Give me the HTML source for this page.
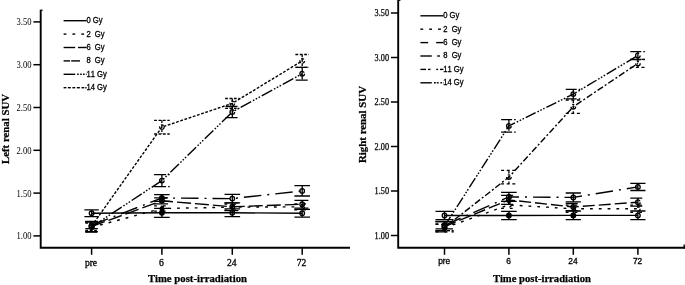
<!DOCTYPE html>
<html><head><meta charset="utf-8"><title>Renal SUV</title>
<style>
html,body{margin:0;padding:0;background:#fff;}
body{width:685px;height:285px;overflow:hidden;}
svg{display:block;}
svg text{fill:#000;}
</style></head><body>
<svg width="685" height="285" viewBox="0 0 685 285">
<rect width="685" height="285" fill="#fff"/>
<path d="M40.7,9.8 V247.8 H350" fill="none" stroke="#000" stroke-width="1.9"/>
<line x1="33.400000000000006" y1="235.90" x2="40.7" y2="235.90" stroke="#000" stroke-width="1.5"/>
<text x="31.500000000000004" y="239.30" text-anchor="end" textLength="15" lengthAdjust="spacingAndGlyphs" style="font:10px 'Liberation Serif',serif">1.00</text>
<line x1="33.400000000000006" y1="193.10" x2="40.7" y2="193.10" stroke="#000" stroke-width="1.5"/>
<text x="31.500000000000004" y="196.50" text-anchor="end" textLength="15" lengthAdjust="spacingAndGlyphs" style="font:10px 'Liberation Serif',serif">1.50</text>
<line x1="33.400000000000006" y1="150.30" x2="40.7" y2="150.30" stroke="#000" stroke-width="1.5"/>
<text x="31.500000000000004" y="153.70" text-anchor="end" textLength="15" lengthAdjust="spacingAndGlyphs" style="font:10px 'Liberation Serif',serif">2.00</text>
<line x1="33.400000000000006" y1="107.50" x2="40.7" y2="107.50" stroke="#000" stroke-width="1.5"/>
<text x="31.500000000000004" y="110.90" text-anchor="end" textLength="15" lengthAdjust="spacingAndGlyphs" style="font:10px 'Liberation Serif',serif">2.50</text>
<line x1="33.400000000000006" y1="64.70" x2="40.7" y2="64.70" stroke="#000" stroke-width="1.5"/>
<text x="31.500000000000004" y="68.10" text-anchor="end" textLength="15" lengthAdjust="spacingAndGlyphs" style="font:10px 'Liberation Serif',serif">3.00</text>
<line x1="33.400000000000006" y1="21.90" x2="40.7" y2="21.90" stroke="#000" stroke-width="1.5"/>
<text x="31.500000000000004" y="25.30" text-anchor="end" textLength="15" lengthAdjust="spacingAndGlyphs" style="font:10px 'Liberation Serif',serif">3.50</text>
<line x1="91.6" y1="247.8" x2="91.6" y2="254.8" stroke="#000" stroke-width="1.5"/>
<text x="91.0" y="265.6" text-anchor="middle" style="font:9.6px 'Liberation Serif',serif;stroke:#000;stroke-width:0.3px">pre</text>
<line x1="161.9" y1="247.8" x2="161.9" y2="254.8" stroke="#000" stroke-width="1.5"/>
<text x="161.3" y="265.6" text-anchor="middle" style="font:9.6px 'Liberation Serif',serif;stroke:#000;stroke-width:0.3px">6</text>
<line x1="232.3" y1="247.8" x2="232.3" y2="254.8" stroke="#000" stroke-width="1.5"/>
<text x="231.7" y="265.6" text-anchor="middle" style="font:9.6px 'Liberation Serif',serif;stroke:#000;stroke-width:0.3px">24</text>
<line x1="302.2" y1="247.8" x2="302.2" y2="254.8" stroke="#000" stroke-width="1.5"/>
<text x="301.6" y="265.6" text-anchor="middle" style="font:9.6px 'Liberation Serif',serif;stroke:#000;stroke-width:0.3px">72</text>
<text x="148" y="282" textLength="99" lengthAdjust="spacingAndGlyphs" style="font:bold 11px 'Liberation Serif',serif;stroke:#000;stroke-width:0.25px">Time post-irradiation</text>
<text transform="translate(9.3,164) rotate(-90)" textLength="70" lengthAdjust="spacingAndGlyphs" style="font:bold 11px 'Liberation Serif',serif;stroke:#000;stroke-width:0.25px">Left renal SUV</text>
<line x1="63.6" y1="20.70" x2="86.6" y2="20.70" stroke="#000" stroke-width="1.4"/>
<text transform="translate(86.4,23.10) scale(0.93,1)" xml:space="preserve" style="font:8.2px 'Liberation Sans',sans-serif;white-space:pre;font-kerning:none;stroke:#000;stroke-width:0.3px">0 Gy</text>
<line x1="63.6" y1="34.10" x2="66.4" y2="34.10" stroke="#000" stroke-width="1.4"/>
<line x1="72.4" y1="34.10" x2="75.2" y2="34.10" stroke="#000" stroke-width="1.4"/>
<line x1="81.3" y1="34.10" x2="84.1" y2="34.10" stroke="#000" stroke-width="1.4"/>
<text transform="translate(86.4,36.50) scale(0.93,1)" xml:space="preserve" style="font:8.2px 'Liberation Sans',sans-serif;white-space:pre;font-kerning:none;stroke:#000;stroke-width:0.3px">2  Gy</text>
<line x1="63.6" y1="47.50" x2="75.2" y2="47.50" stroke="#000" stroke-width="1.4"/>
<line x1="78.0" y1="47.50" x2="86.6" y2="47.50" stroke="#000" stroke-width="1.4"/>
<text transform="translate(86.4,49.90) scale(0.93,1)" xml:space="preserve" style="font:8.2px 'Liberation Sans',sans-serif;white-space:pre;font-kerning:none;stroke:#000;stroke-width:0.3px">6  Gy</text>
<line x1="63.6" y1="60.90" x2="70.1" y2="60.90" stroke="#000" stroke-width="1.4"/>
<line x1="71.2" y1="60.90" x2="80.0" y2="60.90" stroke="#000" stroke-width="1.4"/>
<text transform="translate(86.4,63.30) scale(0.93,1)" xml:space="preserve" style="font:8.2px 'Liberation Sans',sans-serif;white-space:pre;font-kerning:none;stroke:#000;stroke-width:0.3px">8  Gy</text>
<line x1="63.6" y1="74.30" x2="75.2" y2="74.30" stroke="#000" stroke-width="1.4"/>
<line x1="77.1" y1="74.30" x2="78.7" y2="74.30" stroke="#000" stroke-width="1.4"/>
<line x1="80.2" y1="74.30" x2="81.8" y2="74.30" stroke="#000" stroke-width="1.4"/>
<line x1="83.0" y1="74.30" x2="84.6" y2="74.30" stroke="#000" stroke-width="1.4"/>
<line x1="85.9" y1="74.30" x2="86.6" y2="74.30" stroke="#000" stroke-width="1.4"/>
<text transform="translate(86.4,76.70) scale(0.93,1)" xml:space="preserve" style="font:8.2px 'Liberation Sans',sans-serif;white-space:pre;font-kerning:none;stroke:#000;stroke-width:0.3px">11 Gy</text>
<line x1="63.6" y1="87.70" x2="66.4" y2="87.70" stroke="#000" stroke-width="1.4"/>
<line x1="67.9" y1="87.70" x2="70.8" y2="87.70" stroke="#000" stroke-width="1.4"/>
<line x1="72.4" y1="87.70" x2="75.2" y2="87.70" stroke="#000" stroke-width="1.4"/>
<line x1="76.8" y1="87.70" x2="79.9" y2="87.70" stroke="#000" stroke-width="1.4"/>
<line x1="81.5" y1="87.70" x2="84.3" y2="87.70" stroke="#000" stroke-width="1.4"/>
<line x1="85.3" y1="87.70" x2="86.6" y2="87.70" stroke="#000" stroke-width="1.4"/>
<text transform="translate(86.4,90.10) scale(0.93,1)" xml:space="preserve" style="font:8.2px 'Liberation Sans',sans-serif;white-space:pre;font-kerning:none;stroke:#000;stroke-width:0.3px">14 Gy</text>
<polyline points="91.6,213.2 161.9,212.8 232.3,212.8 302.2,213.2" fill="none" stroke="#000" stroke-width="1.4"/>
<path d="M91.6,209.8 V216.6 M84.4,209.8 H98.8 M84.4,216.6 H98.8" fill="none" stroke="#000" stroke-width="1.3"/>
<circle cx="91.6" cy="213.2" r="2.3" fill="none" stroke="#000" stroke-width="1.3"/>
<path d="M161.9,208.3 V217.3 M154.1,208.3 H169.7 M154.1,217.3 H169.7" fill="none" stroke="#000" stroke-width="1.3"/>
<circle cx="161.9" cy="212.8" r="2.3" fill="#000" stroke="#000" stroke-width="1.3"/>
<path d="M232.3,208.9 V216.6 M224.5,208.9 H240.1 M224.5,216.6 H240.1" fill="none" stroke="#000" stroke-width="1.3"/>
<circle cx="232.3" cy="212.8" r="2.3" fill="none" stroke="#000" stroke-width="1.3"/>
<path d="M302.2,209.4 V217.1 M294.4,209.4 H310.0 M294.4,217.1 H310.0" fill="none" stroke="#000" stroke-width="1.3"/>
<circle cx="302.2" cy="213.2" r="2.3" fill="none" stroke="#000" stroke-width="1.3"/>
<polyline points="91.6,227.3 161.9,208.5 232.3,207.2 302.2,206.8" fill="none" stroke="#000" stroke-width="1.4" stroke-dasharray="2.8 6"/>
<path d="M91.6,223.1 V231.6 M85.3,223.1 H97.9 M85.3,231.6 H97.9" fill="none" stroke="#000" stroke-width="1.3" stroke-dasharray="2.8 6"/>
<circle cx="91.6" cy="227.3" r="2.3" fill="none" stroke="#000" stroke-width="1.3" stroke-dasharray="2.8 6"/>
<path d="M161.9,205.9 V211.1 M154.1,205.9 H169.7 M154.1,211.1 H169.7" fill="none" stroke="#000" stroke-width="1.3" stroke-dasharray="2.8 6"/>
<circle cx="161.9" cy="208.5" r="2.3" fill="#000" stroke="#000" stroke-width="1.3" stroke-dasharray="2.8 6"/>
<path d="M232.3,204.2 V210.2 M224.5,204.2 H240.1 M224.5,210.2 H240.1" fill="none" stroke="#000" stroke-width="1.3" stroke-dasharray="2.8 6"/>
<circle cx="232.3" cy="207.2" r="2.3" fill="none" stroke="#000" stroke-width="1.3" stroke-dasharray="2.8 6"/>
<path d="M302.2,203.8 V209.8 M294.4,203.8 H310.0 M294.4,209.8 H310.0" fill="none" stroke="#000" stroke-width="1.3" stroke-dasharray="2.8 6"/>
<circle cx="302.2" cy="206.8" r="2.3" fill="none" stroke="#000" stroke-width="1.3" stroke-dasharray="2.8 6"/>
<polyline points="91.6,226.5 161.9,200.8 232.3,206.8 302.2,204.2" fill="none" stroke="#000" stroke-width="1.4" stroke-dasharray="14 4"/>
<path d="M91.6,221.3 V231.6 M85.3,221.3 H97.9 M85.3,231.6 H97.9" fill="none" stroke="#000" stroke-width="1.3" stroke-dasharray="14 4"/>
<circle cx="91.6" cy="226.5" r="2.3" fill="none" stroke="#000" stroke-width="1.3" stroke-dasharray="14 4"/>
<path d="M161.9,197.8 V203.8 M154.1,197.8 H169.7 M154.1,203.8 H169.7" fill="none" stroke="#000" stroke-width="1.3" stroke-dasharray="14 4"/>
<circle cx="161.9" cy="200.8" r="2.3" fill="none" stroke="#000" stroke-width="1.3" stroke-dasharray="14 4"/>
<path d="M232.3,202.9 V210.6 M224.5,202.9 H240.1 M224.5,210.6 H240.1" fill="none" stroke="#000" stroke-width="1.3" stroke-dasharray="14 4"/>
<circle cx="232.3" cy="206.8" r="2.3" fill="none" stroke="#000" stroke-width="1.3" stroke-dasharray="14 4"/>
<path d="M302.2,200.4 V208.1 M294.4,200.4 H310.0 M294.4,208.1 H310.0" fill="none" stroke="#000" stroke-width="1.3" stroke-dasharray="14 4"/>
<circle cx="302.2" cy="204.2" r="2.3" fill="none" stroke="#000" stroke-width="1.3" stroke-dasharray="14 4"/>
<polyline points="91.6,225.2 161.9,198.0 232.3,198.6 302.2,190.9" fill="none" stroke="#000" stroke-width="1.4" stroke-dasharray="17.5 6 2 6"/>
<path d="M91.6,221.8 V228.6 M85.3,221.8 H97.9 M85.3,228.6 H97.9" fill="none" stroke="#000" stroke-width="1.3" stroke-dasharray="17.5 6 2 6"/>
<circle cx="91.6" cy="225.2" r="2.3" fill="none" stroke="#000" stroke-width="1.3" stroke-dasharray="17.5 6 2 6"/>
<path d="M161.9,194.6 V201.4 M154.1,194.6 H169.7 M154.1,201.4 H169.7" fill="none" stroke="#000" stroke-width="1.3" stroke-dasharray="17.5 6 2 6"/>
<circle cx="161.9" cy="198.0" r="2.3" fill="#000" stroke="#000" stroke-width="1.3" stroke-dasharray="17.5 6 2 6"/>
<path d="M232.3,194.3 V202.9 M224.5,194.3 H240.1 M224.5,202.9 H240.1" fill="none" stroke="#000" stroke-width="1.3" stroke-dasharray="17.5 6 2 6"/>
<circle cx="232.3" cy="198.6" r="2.3" fill="none" stroke="#000" stroke-width="1.3" stroke-dasharray="17.5 6 2 6"/>
<path d="M302.2,185.7 V196.0 M294.4,185.7 H310.0 M294.4,196.0 H310.0" fill="none" stroke="#000" stroke-width="1.3" stroke-dasharray="17.5 6 2 6"/>
<circle cx="302.2" cy="190.9" r="2.3" fill="none" stroke="#000" stroke-width="1.3" stroke-dasharray="17.5 6 2 6"/>
<polyline points="91.6,226.9 161.9,180.6 232.3,112.0 302.2,73.7" fill="none" stroke="#000" stroke-width="1.4" stroke-dasharray="12 2 1.6 1.6 1.6 1.6 1.6 2"/>
<path d="M91.6,221.8 V232.0 M85.3,221.8 H97.9 M85.3,232.0 H97.9" fill="none" stroke="#000" stroke-width="1.3" stroke-dasharray="12 2 1.6 1.6 1.6 1.6 1.6 2"/>
<circle cx="91.6" cy="226.9" r="2.3" fill="none" stroke="#000" stroke-width="1.3" stroke-dasharray="12 2 1.6 1.6 1.6 1.6 1.6 2"/>
<path d="M161.9,174.6 V186.6 M154.1,174.6 H169.7 M154.1,186.6 H169.7" fill="none" stroke="#000" stroke-width="1.3" stroke-dasharray="12 2 1.6 1.6 1.6 1.6 1.6 2"/>
<circle cx="161.9" cy="180.6" r="2.3" fill="none" stroke="#000" stroke-width="1.3" stroke-dasharray="12 2 1.6 1.6 1.6 1.6 1.6 2"/>
<path d="M232.3,106.5 V117.6 M225.5,106.5 H239.1 M225.5,117.6 H239.1" fill="none" stroke="#000" stroke-width="1.3" stroke-dasharray="12 2 1.6 1.6 1.6 1.6 1.6 2"/>
<circle cx="232.3" cy="112.0" r="2.3" fill="none" stroke="#000" stroke-width="1.3" stroke-dasharray="12 2 1.6 1.6 1.6 1.6 1.6 2"/>
<path d="M302.2,67.3 V80.1 M295.7,67.3 H308.7 M295.7,80.1 H308.7" fill="none" stroke="#000" stroke-width="1.3" stroke-dasharray="12 2 1.6 1.6 1.6 1.6 1.6 2"/>
<circle cx="302.2" cy="73.7" r="2.3" fill="none" stroke="#000" stroke-width="1.3" stroke-dasharray="12 2 1.6 1.6 1.6 1.6 1.6 2"/>
<polyline points="91.6,226.1 161.9,127.1 232.3,103.4 302.2,60.9" fill="none" stroke="#000" stroke-width="1.4" stroke-dasharray="2.8 1.6"/>
<path d="M91.6,221.8 V230.3 M85.3,221.8 H97.9 M85.3,230.3 H97.9" fill="none" stroke="#000" stroke-width="1.3" stroke-dasharray="2.8 1.6"/>
<circle cx="91.6" cy="226.1" r="2.3" fill="none" stroke="#000" stroke-width="1.3" stroke-dasharray="2.8 1.6"/>
<path d="M161.9,120.3 V134.0 M154.1,120.3 H169.7 M154.1,134.0 H169.7" fill="none" stroke="#000" stroke-width="1.3" stroke-dasharray="2.8 1.6"/>
<circle cx="161.9" cy="127.1" r="2.3" fill="none" stroke="#000" stroke-width="1.3" stroke-dasharray="2.8 1.6"/>
<path d="M232.3,98.5 V108.3 M225.1,98.5 H239.5 M225.1,108.3 H239.5" fill="none" stroke="#000" stroke-width="1.3" stroke-dasharray="2.8 1.6"/>
<circle cx="232.3" cy="103.4" r="2.3" fill="none" stroke="#000" stroke-width="1.3" stroke-dasharray="2.8 1.6"/>
<path d="M302.2,54.5 V67.4 M295.4,54.5 H309.0 M295.4,67.4 H309.0" fill="none" stroke="#000" stroke-width="1.3" stroke-dasharray="2.8 1.6"/>
<circle cx="302.2" cy="60.9" r="2.3" fill="none" stroke="#000" stroke-width="1.3" stroke-dasharray="2.8 1.6"/>
<path d="M398.2,0 V247.8 H685" fill="none" stroke="#000" stroke-width="1.9"/>
<line x1="390.9" y1="235.50" x2="398.2" y2="235.50" stroke="#000" stroke-width="1.5"/>
<text x="389.0" y="238.90" text-anchor="end" textLength="14.4" lengthAdjust="spacingAndGlyphs" style="font:10px 'Liberation Serif',serif;stroke:#000;stroke-width:0.25px">1.00</text>
<line x1="390.9" y1="191.00" x2="398.2" y2="191.00" stroke="#000" stroke-width="1.5"/>
<text x="389.0" y="194.40" text-anchor="end" textLength="14.4" lengthAdjust="spacingAndGlyphs" style="font:10px 'Liberation Serif',serif;stroke:#000;stroke-width:0.25px">1.50</text>
<line x1="390.9" y1="146.50" x2="398.2" y2="146.50" stroke="#000" stroke-width="1.5"/>
<text x="389.0" y="149.90" text-anchor="end" textLength="14.4" lengthAdjust="spacingAndGlyphs" style="font:10px 'Liberation Serif',serif;stroke:#000;stroke-width:0.25px">2.00</text>
<line x1="390.9" y1="102.00" x2="398.2" y2="102.00" stroke="#000" stroke-width="1.5"/>
<text x="389.0" y="105.40" text-anchor="end" textLength="14.4" lengthAdjust="spacingAndGlyphs" style="font:10px 'Liberation Serif',serif;stroke:#000;stroke-width:0.25px">2.50</text>
<line x1="390.9" y1="57.50" x2="398.2" y2="57.50" stroke="#000" stroke-width="1.5"/>
<text x="389.0" y="60.90" text-anchor="end" textLength="14.4" lengthAdjust="spacingAndGlyphs" style="font:10px 'Liberation Serif',serif;stroke:#000;stroke-width:0.25px">3.00</text>
<line x1="390.9" y1="13.00" x2="398.2" y2="13.00" stroke="#000" stroke-width="1.5"/>
<text x="389.0" y="16.40" text-anchor="end" textLength="14.4" lengthAdjust="spacingAndGlyphs" style="font:10px 'Liberation Serif',serif;stroke:#000;stroke-width:0.25px">3.50</text>
<line x1="444.5" y1="247.8" x2="444.5" y2="254.8" stroke="#000" stroke-width="1.5"/>
<text x="444.2" y="264.4" text-anchor="middle" style="font:8.4px 'Liberation Sans',sans-serif;stroke:#000;stroke-width:0.3px">pre</text>
<line x1="508.9" y1="247.8" x2="508.9" y2="254.8" stroke="#000" stroke-width="1.5"/>
<text x="508.6" y="264.4" text-anchor="middle" style="font:8.4px 'Liberation Sans',sans-serif;stroke:#000;stroke-width:0.3px">6</text>
<line x1="573.3" y1="247.8" x2="573.3" y2="254.8" stroke="#000" stroke-width="1.5"/>
<text x="573.0" y="264.4" text-anchor="middle" style="font:8.4px 'Liberation Sans',sans-serif;stroke:#000;stroke-width:0.3px">24</text>
<line x1="637.9" y1="247.8" x2="637.9" y2="254.8" stroke="#000" stroke-width="1.5"/>
<text x="637.6" y="264.4" text-anchor="middle" style="font:8.4px 'Liberation Sans',sans-serif;stroke:#000;stroke-width:0.3px">72</text>
<text x="493" y="281.5" textLength="98" lengthAdjust="spacingAndGlyphs" style="font:bold 11px 'Liberation Serif',serif;stroke:#000;stroke-width:0.25px">Time post-irradiation</text>
<text transform="translate(366,163) rotate(-90)" textLength="77" lengthAdjust="spacingAndGlyphs" style="font:bold 11px 'Liberation Serif',serif;stroke:#000;stroke-width:0.25px">Right renal SUV</text>
<line x1="420.4" y1="15.80" x2="443.4" y2="15.80" stroke="#000" stroke-width="1.4"/>
<text transform="translate(443.2,18.20) scale(0.93,1)" xml:space="preserve" style="font:8.2px 'Liberation Sans',sans-serif;white-space:pre;font-kerning:none;stroke:#000;stroke-width:0.3px">0 Gy</text>
<line x1="420.4" y1="29.20" x2="423.2" y2="29.20" stroke="#000" stroke-width="1.4"/>
<line x1="429.2" y1="29.20" x2="432.0" y2="29.20" stroke="#000" stroke-width="1.4"/>
<line x1="438.1" y1="29.20" x2="440.9" y2="29.20" stroke="#000" stroke-width="1.4"/>
<text transform="translate(443.2,31.60) scale(0.93,1)" xml:space="preserve" style="font:8.2px 'Liberation Sans',sans-serif;white-space:pre;font-kerning:none;stroke:#000;stroke-width:0.3px">2  Gy</text>
<line x1="420.4" y1="42.60" x2="428.2" y2="42.60" stroke="#000" stroke-width="1.4"/>
<line x1="436.2" y1="42.60" x2="443.4" y2="42.60" stroke="#000" stroke-width="1.4"/>
<text transform="translate(443.2,45.00) scale(0.93,1)" xml:space="preserve" style="font:8.2px 'Liberation Sans',sans-serif;white-space:pre;font-kerning:none;stroke:#000;stroke-width:0.3px">6  Gy</text>
<line x1="420.4" y1="56.00" x2="431.8" y2="56.00" stroke="#000" stroke-width="1.4"/>
<line x1="437.2" y1="56.00" x2="440.0" y2="56.00" stroke="#000" stroke-width="1.4"/>
<text transform="translate(443.2,58.40) scale(0.93,1)" xml:space="preserve" style="font:8.2px 'Liberation Sans',sans-serif;white-space:pre;font-kerning:none;stroke:#000;stroke-width:0.3px">8  Gy</text>
<line x1="420.4" y1="69.40" x2="426.1" y2="69.40" stroke="#000" stroke-width="1.4"/>
<line x1="428.0" y1="69.40" x2="430.5" y2="69.40" stroke="#000" stroke-width="1.4"/>
<line x1="436.2" y1="69.40" x2="438.1" y2="69.40" stroke="#000" stroke-width="1.4"/>
<line x1="440.0" y1="69.40" x2="443.4" y2="69.40" stroke="#000" stroke-width="1.4"/>
<text transform="translate(443.2,71.80) scale(0.93,1)" xml:space="preserve" style="font:8.2px 'Liberation Sans',sans-serif;white-space:pre;font-kerning:none;stroke:#000;stroke-width:0.3px">11 Gy</text>
<line x1="420.4" y1="82.80" x2="431.8" y2="82.80" stroke="#000" stroke-width="1.4"/>
<line x1="434.0" y1="82.80" x2="435.8" y2="82.80" stroke="#000" stroke-width="1.4"/>
<line x1="436.8" y1="82.80" x2="438.7" y2="82.80" stroke="#000" stroke-width="1.4"/>
<line x1="440.4" y1="82.80" x2="441.9" y2="82.80" stroke="#000" stroke-width="1.4"/>
<line x1="442.9" y1="82.80" x2="443.4" y2="82.80" stroke="#000" stroke-width="1.4"/>
<text transform="translate(443.2,85.20) scale(0.93,1)" xml:space="preserve" style="font:8.2px 'Liberation Sans',sans-serif;white-space:pre;font-kerning:none;stroke:#000;stroke-width:0.3px">14 Gy</text>
<polyline points="444.5,215.5 508.9,215.5 573.3,215.4 637.9,215.4" fill="none" stroke="#000" stroke-width="1.4"/>
<path d="M444.5,211.4 V219.6 M435.5,211.4 H453.5 M435.5,219.6 H453.5" fill="none" stroke="#000" stroke-width="1.3"/>
<circle cx="444.5" cy="215.5" r="2.3" fill="none" stroke="#000" stroke-width="1.3"/>
<path d="M508.9,211.3 V219.7 M501.1,211.3 H516.7 M501.1,219.7 H516.7" fill="none" stroke="#000" stroke-width="1.3"/>
<circle cx="508.9" cy="215.5" r="2.3" fill="#000" stroke="#000" stroke-width="1.3"/>
<path d="M573.3,211.0 V219.7 M565.7,211.0 H580.9 M565.7,219.7 H580.9" fill="none" stroke="#000" stroke-width="1.3"/>
<circle cx="573.3" cy="215.4" r="2.3" fill="#000" stroke="#000" stroke-width="1.3"/>
<path d="M637.9,211.0 V219.7 M630.3,211.0 H645.5 M630.3,219.7 H645.5" fill="none" stroke="#000" stroke-width="1.3"/>
<circle cx="637.9" cy="215.4" r="2.3" fill="none" stroke="#000" stroke-width="1.3"/>
<polyline points="444.5,227.9 508.9,204.9 573.3,208.8 637.9,208.8" fill="none" stroke="#000" stroke-width="1.4" stroke-dasharray="2.8 6"/>
<path d="M444.5,223.9 V231.9 M435.5,223.9 H453.5 M435.5,231.9 H453.5" fill="none" stroke="#000" stroke-width="1.3" stroke-dasharray="2.8 6"/>
<circle cx="444.5" cy="227.9" r="2.3" fill="none" stroke="#000" stroke-width="1.3" stroke-dasharray="2.8 6"/>
<path d="M508.9,201.3 V208.4 M501.1,201.3 H516.7 M501.1,208.4 H516.7" fill="none" stroke="#000" stroke-width="1.3" stroke-dasharray="2.8 6"/>
<circle cx="508.9" cy="204.9" r="2.3" fill="none" stroke="#000" stroke-width="1.3" stroke-dasharray="2.8 6"/>
<path d="M573.3,205.2 V212.4 M565.7,205.2 H580.9 M565.7,212.4 H580.9" fill="none" stroke="#000" stroke-width="1.3" stroke-dasharray="2.8 6"/>
<circle cx="573.3" cy="208.8" r="2.3" fill="none" stroke="#000" stroke-width="1.3" stroke-dasharray="2.8 6"/>
<path d="M637.9,205.2 V212.4 M630.3,205.2 H645.5 M630.3,212.4 H645.5" fill="none" stroke="#000" stroke-width="1.3" stroke-dasharray="2.8 6"/>
<circle cx="637.9" cy="208.8" r="2.3" fill="none" stroke="#000" stroke-width="1.3" stroke-dasharray="2.8 6"/>
<polyline points="444.5,226.6 508.9,199.9 573.3,207.0 637.9,202.2" fill="none" stroke="#000" stroke-width="1.4" stroke-dasharray="12 4"/>
<path d="M444.5,221.3 V231.9 M435.5,221.3 H453.5 M435.5,231.9 H453.5" fill="none" stroke="#000" stroke-width="1.3" stroke-dasharray="12 4"/>
<circle cx="444.5" cy="226.6" r="2.3" fill="none" stroke="#000" stroke-width="1.3" stroke-dasharray="12 4"/>
<path d="M508.9,195.4 V204.4 M501.1,195.4 H516.7 M501.1,204.4 H516.7" fill="none" stroke="#000" stroke-width="1.3" stroke-dasharray="12 4"/>
<circle cx="508.9" cy="199.9" r="2.3" fill="none" stroke="#000" stroke-width="1.3" stroke-dasharray="12 4"/>
<path d="M573.3,203.5 V210.6 M565.7,203.5 H580.9 M565.7,210.6 H580.9" fill="none" stroke="#000" stroke-width="1.3" stroke-dasharray="12 4"/>
<circle cx="573.3" cy="207.0" r="2.3" fill="none" stroke="#000" stroke-width="1.3" stroke-dasharray="12 4"/>
<path d="M637.9,198.2 V206.2 M630.3,198.2 H645.5 M630.3,206.2 H645.5" fill="none" stroke="#000" stroke-width="1.3" stroke-dasharray="12 4"/>
<circle cx="637.9" cy="202.2" r="2.3" fill="none" stroke="#000" stroke-width="1.3" stroke-dasharray="12 4"/>
<polyline points="444.5,225.3 508.9,196.9 573.3,197.4 637.9,186.9" fill="none" stroke="#000" stroke-width="1.4" stroke-dasharray="17.5 6 2 6"/>
<path d="M444.5,221.7 V228.8 M435.5,221.7 H453.5 M435.5,228.8 H453.5" fill="none" stroke="#000" stroke-width="1.3" stroke-dasharray="17.5 6 2 6"/>
<circle cx="444.5" cy="225.3" r="2.3" fill="none" stroke="#000" stroke-width="1.3" stroke-dasharray="17.5 6 2 6"/>
<path d="M508.9,192.4 V201.3 M501.1,192.4 H516.7 M501.1,201.3 H516.7" fill="none" stroke="#000" stroke-width="1.3" stroke-dasharray="17.5 6 2 6"/>
<circle cx="508.9" cy="196.9" r="2.3" fill="none" stroke="#000" stroke-width="1.3" stroke-dasharray="17.5 6 2 6"/>
<path d="M573.3,193.0 V201.9 M565.7,193.0 H580.9 M565.7,201.9 H580.9" fill="none" stroke="#000" stroke-width="1.3" stroke-dasharray="17.5 6 2 6"/>
<circle cx="573.3" cy="197.4" r="2.3" fill="none" stroke="#000" stroke-width="1.3" stroke-dasharray="17.5 6 2 6"/>
<path d="M637.9,183.3 V190.5 M630.3,183.3 H645.5 M630.3,190.5 H645.5" fill="none" stroke="#000" stroke-width="1.3" stroke-dasharray="17.5 6 2 6"/>
<circle cx="637.9" cy="186.9" r="2.3" fill="none" stroke="#000" stroke-width="1.3" stroke-dasharray="17.5 6 2 6"/>
<polyline points="444.5,227.5 508.9,177.1 573.3,106.7 637.9,63.4" fill="none" stroke="#000" stroke-width="1.4" stroke-dasharray="6.5 2.2 2 2.2"/>
<path d="M444.5,224.4 V230.6 M435.5,224.4 H453.5 M435.5,230.6 H453.5" fill="none" stroke="#000" stroke-width="1.3" stroke-dasharray="3 2.6"/>
<circle cx="444.5" cy="227.5" r="2.3" fill="none" stroke="#000" stroke-width="1.3" stroke-dasharray="6.5 2.2 2 2.2"/>
<path d="M508.9,170.4 V183.9 M501.1,170.4 H516.7 M501.1,183.9 H516.7" fill="none" stroke="#000" stroke-width="1.3" stroke-dasharray="3 2.6"/>
<circle cx="508.9" cy="177.1" r="2.3" fill="none" stroke="#000" stroke-width="1.3" stroke-dasharray="6.5 2.2 2 2.2"/>
<path d="M573.3,100.0 V113.4 M565.7,100.0 H580.9 M565.7,113.4 H580.9" fill="none" stroke="#000" stroke-width="1.3" stroke-dasharray="3 2.6"/>
<circle cx="573.3" cy="106.7" r="2.3" fill="none" stroke="#000" stroke-width="1.3" stroke-dasharray="6.5 2.2 2 2.2"/>
<path d="M637.9,59.4 V67.4 M630.3,59.4 H645.5 M630.3,67.4 H645.5" fill="none" stroke="#000" stroke-width="1.3" stroke-dasharray="3 2.6"/>
<circle cx="637.9" cy="63.4" r="2.3" fill="none" stroke="#000" stroke-width="1.3" stroke-dasharray="6.5 2.2 2 2.2"/>
<polyline points="444.5,226.2 508.9,125.9 573.3,94.1 637.9,55.5" fill="none" stroke="#000" stroke-width="1.4" stroke-dasharray="11 2 1.6 1.6 1.6 1.6 1.6 2"/>
<path d="M444.5,221.7 V230.6 M435.5,221.7 H453.5 M435.5,230.6 H453.5" fill="none" stroke="#000" stroke-width="1.3" stroke-dasharray="11 2 1.6 1.6 1.6 1.6 1.6 2"/>
<circle cx="444.5" cy="226.2" r="2.3" fill="none" stroke="#000" stroke-width="1.3" stroke-dasharray="11 2 1.6 1.6 1.6 1.6 1.6 2"/>
<path d="M508.9,119.7 V132.2 M501.1,119.7 H516.7 M501.1,132.2 H516.7" fill="none" stroke="#000" stroke-width="1.3" stroke-dasharray="11 2 1.6 1.6 1.6 1.6 1.6 2"/>
<circle cx="508.9" cy="125.9" r="2.3" fill="none" stroke="#000" stroke-width="1.3" stroke-dasharray="11 2 1.6 1.6 1.6 1.6 1.6 2"/>
<path d="M573.3,89.3 V98.9 M565.7,89.3 H580.9 M565.7,98.9 H580.9" fill="none" stroke="#000" stroke-width="1.3" stroke-dasharray="11 2 1.6 1.6 1.6 1.6 1.6 2"/>
<circle cx="573.3" cy="94.1" r="2.3" fill="none" stroke="#000" stroke-width="1.3" stroke-dasharray="11 2 1.6 1.6 1.6 1.6 1.6 2"/>
<path d="M637.9,51.6 V59.5 M630.3,51.6 H645.5 M630.3,59.5 H645.5" fill="none" stroke="#000" stroke-width="1.3" stroke-dasharray="11 2 1.6 1.6 1.6 1.6 1.6 2"/>
<circle cx="637.9" cy="55.5" r="2.3" fill="none" stroke="#000" stroke-width="1.3" stroke-dasharray="11 2 1.6 1.6 1.6 1.6 1.6 2"/>
<path d="M684.2,244.6 V248.6" stroke="#000" stroke-width="1.4" fill="none"/>
<path d="M40.7,10.2 H42.8" stroke="#000" stroke-width="1" fill="none"/>
<path d="M398.2,0.4 H400.4" stroke="#000" stroke-width="1" fill="none"/>
</svg>
</body></html>
